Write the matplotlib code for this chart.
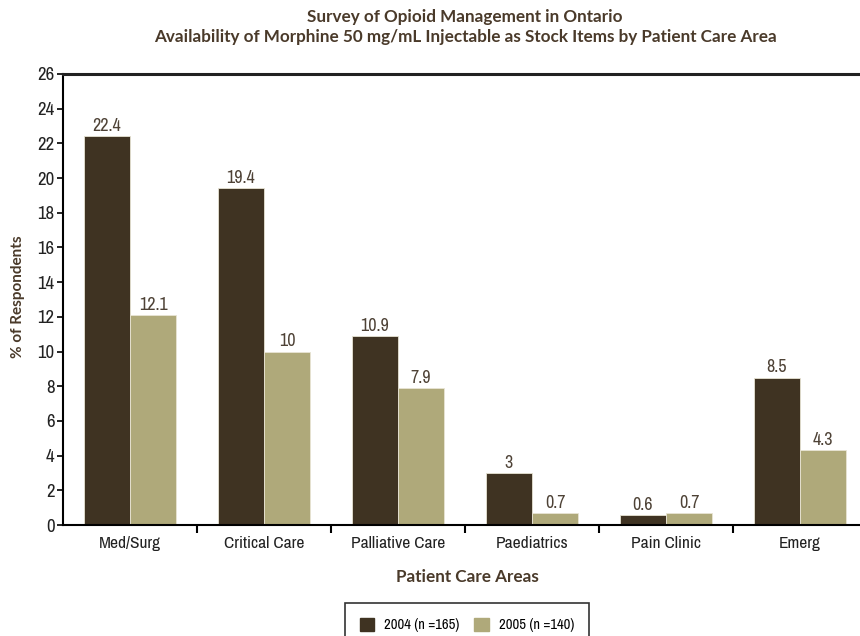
import numpy as np
import matplotlib.pyplot as plt
from matplotlib import font_manager as fm
from matplotlib.patches import Patch

areas = ["Med/Surg", "Critical Care", "Palliative Care", "Paediatrics", "Pain Clinic", "Emerg"]
vals_2004 = [22.4, 19.4, 10.9, 3, 0.6, 8.5]
vals_2005 = [12.1, 10, 7.9, 0.7, 0.7, 4.3]
series_names = ["2004 (n =165)", "2005 (n =140)"]

dark = "#3f3322"
light = "#afa97a"
brown = "#4a3a2a"

# pick a narrow face for numbers and category names if one is around
names = sorted({f.name for f in fm.fontManager.ttflist})
narrow_name = None
for n in names:
    if "Condensed" in n or "Narrow" in n:
        narrow_name = n
        break
cond_faces = [f for f in fm.fontManager.ttflist if f.name == "DejaVu Sans" and f.stretch == "condensed"]
if narrow_name:
    NF = dict(family=[narrow_name, "DejaVu Sans"], fontweight="light")
elif cond_faces:
    NF = dict(family=["DejaVu Sans"], stretch="condensed")
else:
    NF = dict(family=["Liberation Sans", "DejaVu Sans"])
bold = ["Lato", "DejaVu Sans"]

fig = plt.figure(figsize=(8.6, 6.36), dpi=100)
ax = fig.add_axes([63 / 860, 111 / 636, 804 / 860, 451 / 636])

x = np.arange(len(areas)) + 0.5
w = 0.345
b1 = ax.bar(x - w / 2, vals_2004, w, color=dark, edgecolor="#e8e4d4", linewidth=0.6)
b2 = ax.bar(x + w / 2, vals_2005, w, color=light, edgecolor="#e8e4d4", linewidth=0.6)

for bars, vals in [(b1, vals_2004), (b2, vals_2005)]:
    for r, v in zip(bars, vals):
        ax.text(r.get_x() + r.get_width() / 2, v + 0.12, f"{v:g}", ha="center", va="bottom",
                fontsize=13, color="#4e4236", **NF)

ax.set_xlim(0, len(areas))
ax.set_ylim(0, 26)
ax.set_yticks(range(0, 27, 2))
ax.set_yticklabels([str(v) for v in range(0, 27, 2)], fontsize=13.5, color="#222222", **NF)

# category names between the group boundary ticks
ax.set_xticks(np.arange(1, len(areas)))
ax.set_xticklabels([])
ax.set_xticks(x, minor=True)
ax.set_xticklabels(areas, minor=True, fontsize=12.5, color="#222222", **NF)
ax.tick_params(axis="x", which="minor", length=0, pad=8)
ax.tick_params(axis="x", which="major", length=6, width=1.5, direction="out")
ax.tick_params(axis="y", length=4, width=1.2, direction="out", pad=2)

ax.spines["right"].set_visible(False)
for s in ["left", "bottom"]:
    ax.spines[s].set_linewidth(1.5)
ax.spines["top"].set_linewidth(2.2)
ax.spines["top"].set_color("#222222")

fig.text(18 / 860, 1 - 297 / 636, "% of Respondents", rotation=90, ha="center", va="center",
         fontsize=11, fontweight="bold", color=brown, family=bold)
fig.text(467 / 860, 1 - 577 / 636, "Patient Care Areas", ha="center", va="center", fontsize=12.3,
         fontweight="bold", color=brown, family=bold)
fig.text(465 / 860, 1 - 17 / 636, "Survey of Opioid Management in Ontario", ha="center", va="center",
         fontsize=12.3, fontweight="bold", color=brown, family=bold)
fig.text(465 / 860, 1 - 37 / 636,
         "Availability of Morphine 50 mg/mL Injectable as Stock Items by Patient Care Area",
         ha="center", va="center", fontsize=12.3, fontweight="bold", color=brown, family=bold)

handles = [Patch(color=dark), Patch(color=light)]
prop = dict(family=NF["family"], weight=NF.get("fontweight", "normal"), size=10.5)
leg = fig.legend(handles, series_names, loc="center", bbox_to_anchor=(467 / 860, 1 - 625 / 636),
                 ncol=2, frameon=True, fancybox=False, edgecolor="black", handlelength=1.0,
                 handleheight=1.0, handletextpad=0.7, columnspacing=1.0, borderpad=1.0, prop=prop)
leg.get_frame().set_linewidth(1.2)

fig.savefig("out.png", dpi=100)
